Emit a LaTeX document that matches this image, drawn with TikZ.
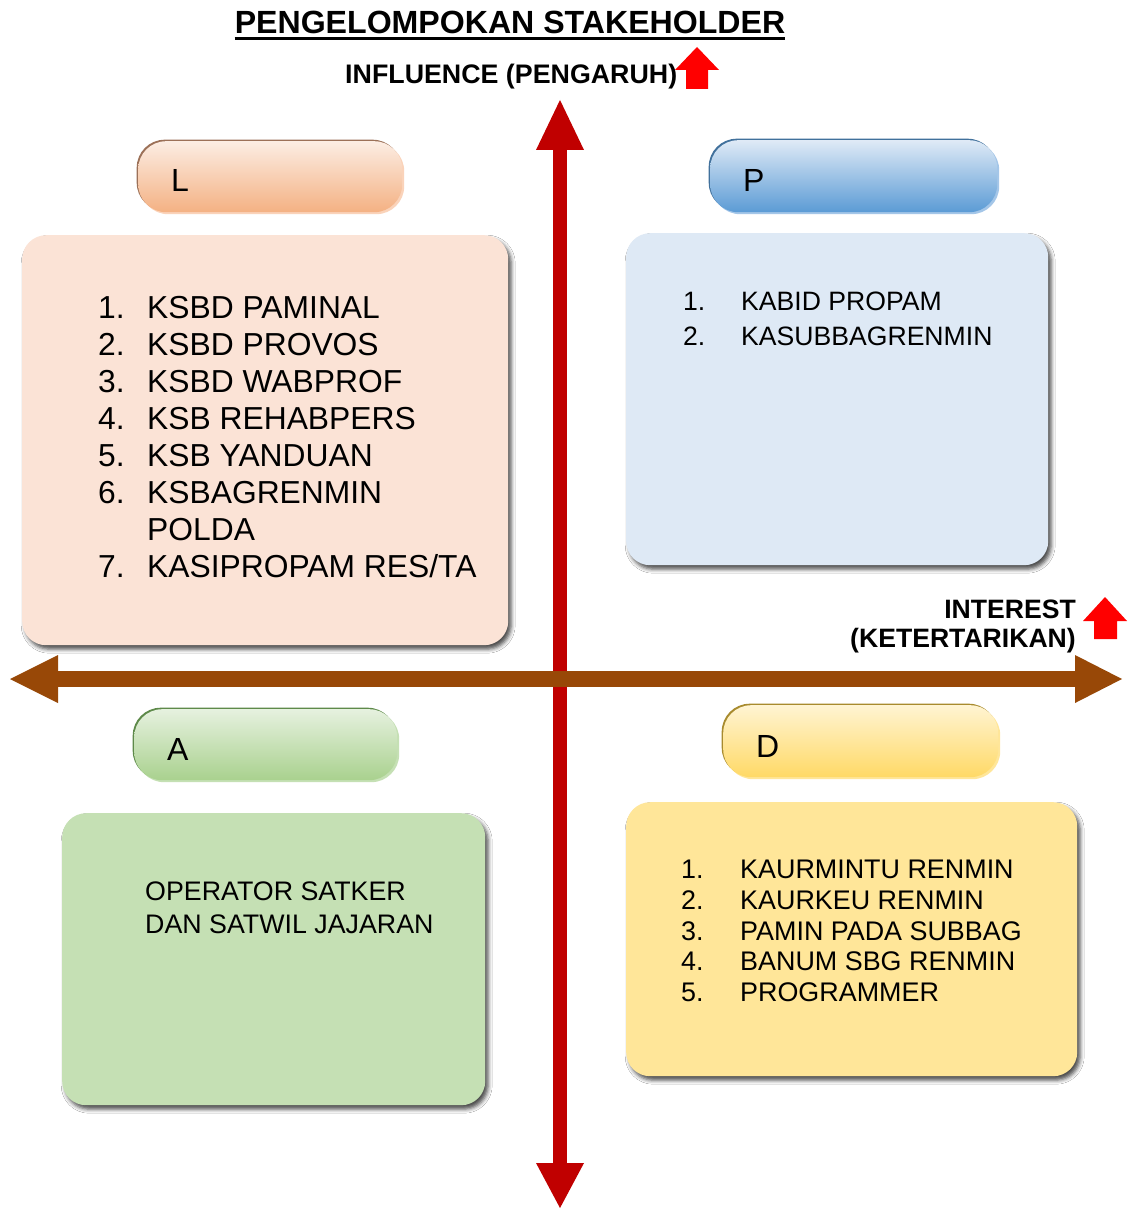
\documentclass[tikz,border=0pt]{standalone}
\usepackage{fontspec}
\setmainfont{Liberation Sans}
\usetikzlibrary{arrows.meta,shadows,shadows.blur}
\definecolor{axred}{HTML}{C00000}
\definecolor{axbrown}{HTML}{984807}
\definecolor{upred}{HTML}{FF0000}
\definecolor{Lbox}{HTML}{FBE3D6}
\definecolor{Pbox}{HTML}{DEE9F5}
\definecolor{Abox}{HTML}{C5E0B4}
\definecolor{Dbox}{HTML}{FFE699}
\definecolor{Ltop}{HTML}{FCEDE3}
\definecolor{Lbot}{HTML}{F4B183}
\definecolor{Ldark}{HTML}{9C7158}
\definecolor{Llight}{HTML}{FAD3BA}
\definecolor{Ptop}{HTML}{DFEAF6}
\definecolor{Pbot}{HTML}{5B9BD5}
\definecolor{Pdark}{HTML}{41719C}
\definecolor{Plight}{HTML}{A4C6E8}
\definecolor{Atop}{HTML}{E6F1DF}
\definecolor{Abot}{HTML}{A9D18E}
\definecolor{Adark}{HTML}{5E8A4A}
\definecolor{Alight}{HTML}{C5E0B4}
\definecolor{Dtop}{HTML}{FFF4D2}
\definecolor{Dbot}{HTML}{FFD966}
\definecolor{Ddark}{HTML}{A88B2E}
\definecolor{Dlight}{HTML}{FFE699}
\tikzset{
  box/.style={rectangle, rounded corners=24pt, inner sep=0pt, anchor=north west,
    blur shadow={shadow xshift=3pt, shadow yshift=-4pt, shadow blur radius=4pt, shadow opacity=70}},
  tab/.style n args={3}{rectangle, rounded corners=28pt, inner sep=0pt, anchor=north west,
    general shadow={fill=#3, shadow xshift=2pt, shadow yshift=-2pt},
    general shadow={fill=#2, shadow xshift=-1.5pt, shadow yshift=1.5pt},
    top color=#1top, bottom color=#1bot},
  tabletter/.style={anchor=base west, inner sep=0pt, font=\fontsize{32}{38}\selectfont},
  listtext/.style={anchor=base west, inner sep=0pt},
  boldlabel/.style={inner sep=0pt, font=\bfseries\fontsize{26.6}{30}\selectfont},
}
\begin{document}
\begin{tikzpicture}[x=1pt,y=-1pt]
\useasboundingbox[fill=white] (0,0) rectangle (1138,1209);

% boxes
\node[box, fill=Lbox, minimum width=486pt, minimum height=410pt] (boxL) at (22,235) {};
\node[box, fill=Pbox, minimum width=422pt, minimum height=332pt] (boxP) at (626,233) {};
\node[box, fill=Abox, minimum width=423pt, minimum height=292pt] (boxA) at (62,813) {};
\node[box, fill=Dbox, minimum width=451pt, minimum height=274pt] (boxD) at (626,802) {};

% tabs
\node[tab={L}{Ldark}{Llight}, minimum width=264pt, minimum height=71pt] (tabL) at (138,141) {};
\node[tab={P}{Pdark}{Plight}, minimum width=287pt, minimum height=72pt] (tabP) at (710,140) {};
\node[tab={A}{Adark}{Alight}, minimum width=263pt, minimum height=71pt] (tabA) at (134,709) {};
\node[tab={D}{Ddark}{Dlight}, minimum width=275pt, minimum height=72pt] (tabD) at (723,705) {};
\node[tabletter] (letL) at (171,191) {L};
\node[tabletter] (letP) at (743,191) {P};
\node[tabletter] (letA) at (167,760) {A};
\node[tabletter] (letD) at (756,757) {D};

% axes
\coordinate (vtop) at (560,100);
\coordinate (vbot) at (560,1208);
\coordinate (hl) at (10,679);
\coordinate (hr) at (1122,679);
\draw[axred, line width=14pt,
  {Triangle[length=50pt,width=48pt,line width=0pt]}-{Triangle[length=45pt,width=48pt,line width=0pt]}]
  (vtop) -- (vbot);
\draw[axbrown, line width=16pt,
  {Triangle[length=48pt,width=48pt,line width=0pt]}-{Triangle[length=47pt,width=48pt,line width=0pt]}]
  (hl) -- (hr);

% title
\node[anchor=base, inner sep=0pt, font=\bfseries\fontsize{32.1}{36}\selectfont] (title) at (510,34) {PENGELOMPOKAN STAKEHOLDER};
\draw[line width=3pt] ([yshift=-4.5pt]title.base west) -- ([yshift=-4.5pt]title.base east);

% influence
\node[boldlabel, anchor=base west, font=\bfseries\fontsize{26.8}{30}\selectfont] (infl) at (345,84) {INFLUENCE (PENGARUH)};
\coordinate (ua) at (697,47);
\fill[upred] (ua) -- ++(22,23) -- ++(-11,0) -- ++(0,19) -- ++(-22,0) -- ++(0,-19) -- ++(-11,0) -- cycle;

% interest
\node[boldlabel, anchor=base east] (int1) at (1076,618) {INTEREST};
\node[boldlabel, anchor=base east] (int2) at (1076,647) {(KETERTARIKAN)};
\coordinate (ub) at (1105,597);
\fill[upred] (ub) -- ++(22,24) -- ++(-10,0) -- ++(0,18) -- ++(-23,0) -- ++(0,-18) -- ++(-11,0) -- cycle;

% lists
\node[listtext, font=\fontsize{31.8}{37}\selectfont] (listL) at (98,318)
  {\begin{tabular}[t]{@{}p{49pt}@{}l@{}}
   1.&KSBD PAMINAL\\
   2.&KSBD PROVOS\\
   3.&KSBD WABPROF\\
   4.&KSB REHABPERS\\
   5.&KSB YANDUAN\\
   6.&KSBAGRENMIN\\
     &POLDA\\
   7.&KASIPROPAM RES/TA
   \end{tabular}};
\node[listtext, font=\fontsize{26.6}{35}\selectfont] (listP) at (683,310)
  {\begin{tabular}[t]{@{}p{58pt}@{}l@{}}
   1.&KABID PROPAM\\
   2.&KASUBBAGRENMIN
   \end{tabular}};
\node[listtext, align=left, font=\fontsize{26.8}{33}\selectfont] (listA) at (145,933)
  {OPERATOR SATKER\\DAN SATWIL JAJARAN};
\node[listtext, font=\fontsize{26.9}{30.8}\selectfont] (listD) at (681,878.5)
  {\begin{tabular}[t]{@{}p{59pt}@{}l@{}}
   1.&KAURMINTU RENMIN\\
   2.&KAURKEU RENMIN\\
   3.&PAMIN PADA SUBBAG\\
   4.&BANUM SBG RENMIN\\
   5.&PROGRAMMER
   \end{tabular}};
\end{tikzpicture}
\end{document}
